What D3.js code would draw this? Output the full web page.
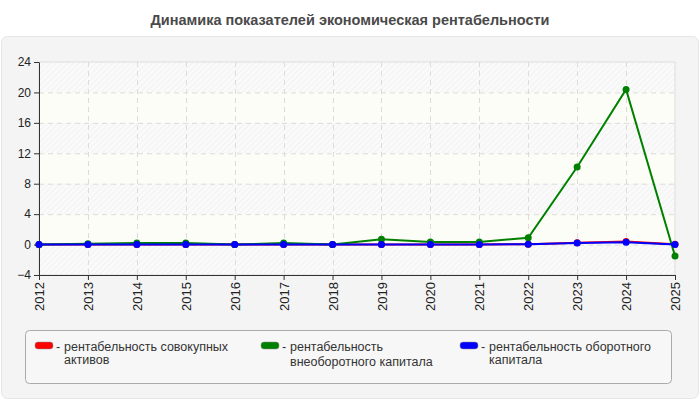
<!DOCTYPE html>
<html>
<head>
<meta charset="utf-8">
<script src="https://cdn.jsdelivr.net/npm/d3@7"></script>
<style>
  body { margin: 0; background: #fff; }
  svg { display: block; font-family: "Liberation Sans", Arial, sans-serif; }
</style>
</head>
<body>
<svg id="chart" width="700" height="400"></svg>
<script>
let years = [2012, 2013, 2014, 2015, 2016, 2017, 2018, 2019, 2020, 2021, 2022, 2023, 2024, 2025];
let yTicks = [-4, 0, 4, 8, 12, 16, 20, 24];

let rent_aktiv = [0, 0, 0, 0, 0, 0, 0, 0, 0, 0, 0.05, 0.25, 0.4, 0.05];
let rent_vneob = [0, 0.1, 0.2, 0.2, 0, 0.2, 0, 0.7, 0.35, 0.35, 0.9, 10.2, 20.4, -1.5];
let rent_obor = [0, 0, 0, 0, 0, 0, 0, 0, 0, 0, 0.05, 0.2, 0.3, 0];

let series = [
    {name: ["рентабельность совокупных", "активов"], color: "#ff0000", values: rent_aktiv},
    {name: ["рентабельность", "внеоборотного капитала"], color: "#008000", values: rent_vneob},
    {name: ["рентабельность оборотного", "капитала"], color: "#0000ff", values: rent_obor}
];

let svg = d3.select("#chart");

// title
svg.append("text")
    .attr("x", 350).attr("y", 25)
    .attr("text-anchor", "middle")
    .attr("font-size", 14.5).attr("font-weight", "bold")
    .attr("fill", "#4a4a4a")
    .text("Динамика показателей экономическая рентабельности");

svg.append("rect")
    .attr("x", 1.5).attr("y", 36.5).attr("width", 697).attr("height", 362)
    .attr("rx", 6)
    .attr("fill", "#f4f4f4").attr("stroke", "#e6e6e6");

let pLeft = 39, pRight = 675, pTop = 62, pBottom = 275;

let x = d3.scaleLinear().domain([2012, 2025]).range([pLeft, pRight]);
let y = d3.scaleLinear().domain([-4, 24]).range([pBottom, pTop]);

// hatch pattern
let defs = svg.append("defs");
let pat = defs.append("pattern")
    .attr("id", "hatch").attr("width", 4).attr("height", 4)
    .attr("patternUnits", "userSpaceOnUse")
    .attr("patternTransform", "rotate(45)");
pat.append("rect").attr("width", 4).attr("height", 4).attr("fill", "#fafafa");
pat.append("line").attr("x1", 0).attr("y1", 0).attr("x2", 0).attr("y2", 4)
    .attr("stroke", "#ededed").attr("stroke-width", 1.2);

svg.append("rect")
    .attr("x", pLeft).attr("y", pTop)
    .attr("width", pRight - pLeft).attr("height", pBottom - pTop)
    .attr("fill", "url(#hatch)");

// alternating plain bands
let bands = [[0, 4], [8, 12], [16, 20]];
svg.selectAll(".band").data(bands).enter().append("rect")
    .attr("x", pLeft).attr("y", d => y(d[1]))
    .attr("width", pRight - pLeft).attr("height", d => y(d[0]) - y(d[1]))
    .attr("fill", "#fcfdf6");

// plot border
svg.append("rect")
    .attr("x", pLeft).attr("y", pTop)
    .attr("width", pRight - pLeft).attr("height", pBottom - pTop)
    .attr("fill", "none").attr("stroke", "#dddddd");

// grid
svg.selectAll(".hgrid").data(yTicks.filter(d => d > -4 && d < 24)).enter().append("line")
    .attr("x1", pLeft).attr("x2", pRight)
    .attr("y1", d => y(d) + 0.5).attr("y2", d => y(d) + 0.5)
    .attr("stroke", "#dcdcdc").attr("stroke-dasharray", "5,4");
svg.selectAll(".vgrid").data(years.slice(1, -1)).enter().append("line")
    .attr("x1", d => Math.round(x(d)) + 0.5).attr("x2", d => Math.round(x(d)) + 0.5)
    .attr("y1", pTop).attr("y2", pBottom)
    .attr("stroke", "#dcdcdc").attr("stroke-dasharray", "5,4");

// axes
let yAxis = svg.append("g")
    .attr("transform", "translate(" + pLeft + ",0)")
    .call(d3.axisLeft(y).tickValues(yTicks).tickSize(5).tickSizeOuter(0));
yAxis.selectAll("text").attr("font-size", 12).attr("fill", "#222")
    .attr("font-family", "Liberation Sans, Arial, sans-serif");
yAxis.select(".domain").attr("stroke", "#333");
yAxis.selectAll(".tick line").attr("stroke", "#333");

let xAxis = svg.append("g")
    .attr("transform", "translate(0," + pBottom + ")")
    .call(d3.axisBottom(x).tickValues(years).tickFormat(d3.format("d")).tickSize(5).tickSizeOuter(0));
xAxis.select(".domain").attr("stroke", "#333");
xAxis.selectAll(".tick line").attr("stroke", "#333");
xAxis.selectAll("text")
    .attr("font-size", 13).attr("fill", "#222")
    .attr("font-family", "Liberation Sans, Arial, sans-serif")
    .attr("transform", "rotate(-90)")
    .attr("text-anchor", "end")
    .attr("x", -7).attr("y", 0).attr("dy", "0.35em");

// lines
let line = d3.line().x((d, i) => x(years[i])).y(d => y(d));
series.forEach(s => {
    svg.append("path")
        .attr("d", line(s.values))
        .attr("fill", "none").attr("stroke", s.color).attr("stroke-width", 2);
    svg.selectAll(null).data(s.values).enter().append("circle")
        .attr("cx", (d, i) => x(years[i])).attr("cy", d => y(d))
        .attr("r", 3.5).attr("fill", s.color);
});

// legend
svg.append("rect")
    .attr("x", 25.5).attr("y", 330.5).attr("width", 646).attr("height", 53)
    .attr("rx", 4)
    .attr("fill", "#f7f7f7").attr("stroke", "#aaaaaa");

let legX = [35, 261, 460];
series.forEach((s, i) => {
    let g = svg.append("g").attr("transform", "translate(" + legX[i] + ",342)");
    g.append("rect")
        .attr("x", 0).attr("y", 0).attr("width", 18).attr("height", 7).attr("rx", 3)
        .attr("fill", s.color).attr("stroke", "#888").attr("stroke-width", 0.5);
    g.append("text")
        .attr("x", 21).attr("y", 9)
        .attr("font-size", 12.5).attr("fill", "#333")
        .text("-");
    let t = g.append("text")
        .attr("font-size", 12.5).attr("fill", "#333");
    s.name.forEach((ln, k) => {
        t.append("tspan")
            .attr("x", 29)
            .attr("y", 9 + k * (i === 1 ? 14.5 : 13))
            .text(ln);
    });
});
</script>
</body>
</html>
